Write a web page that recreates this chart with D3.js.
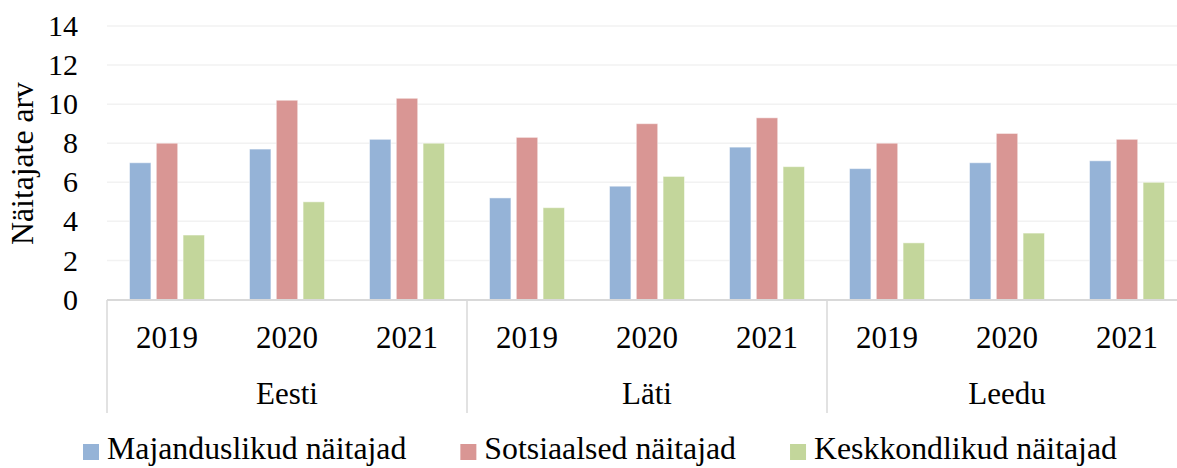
<!DOCTYPE html>
<meta charset="utf-8">
<script src="https://d3js.org/d3.v7.min.js"></script>
<style>
  body { margin: 0; background: #fff; }
</style>
<svg id="chart" width="1177" height="468"></svg>
<script>
// data
var groups = ["Eesti", "Läti", "Leedu"];
var years = ["2019", "2020", "2021"];
var seriesNames = ["Majanduslikud näitajad", "Sotsiaalsed näitajad", "Keskkondlikud näitajad"];
var majandus = [7.0, 7.7, 8.2, 5.2, 5.8, 7.8, 6.7, 7.0, 7.1];
var sotsiaal = [8.0, 10.2, 10.3, 8.3, 9.0, 9.3, 8.0, 8.5, 8.2];
var keskkond = [3.3, 5.0, 8.0, 4.7, 6.3, 6.8, 2.9, 3.4, 6.0];
var yTicks = [0, 2, 4, 6, 8, 10, 12, 14];

var colors = ["#95B3D7", "#D99694", "#C3D69B"];
var series = [majandus, sotsiaal, keskkond];
var serif = "Liberation Serif";

var svg = d3.select("#chart");
var plotLeft = 107, plotRight = 1187, plotTop = 26, plotBottom = 299.5;

// one slot per group/year pair
var cats = [];
groups.forEach(function (g) {
  years.forEach(function (y) { cats.push(g + "|" + y); });
});

var x0 = d3.scaleBand().domain(cats).range([plotLeft, plotRight]).padding(0);
var half = x0.bandwidth() / 2;
var x1 = d3.scaleBand().domain(d3.range(series.length))
  .range([half - 37.5, half + 37.5]).paddingInner(0.2).paddingOuter(0);
var y = d3.scaleLinear().domain([0, 14]).range([plotBottom, plotTop]);

// gridlines
svg.append("g")
  .selectAll("line")
  .data(yTicks.slice(1))
  .enter().append("line")
  .attr("x1", plotLeft).attr("x2", 1177)
  .attr("y1", function (d) { return y(d); })
  .attr("y2", function (d) { return y(d); })
  .style("stroke", "#F2F2F2")
  .style("stroke-width", 1.5);

// y axis labels
var yAxis = svg.append("g")
  .attr("transform", "translate(" + plotLeft + ",0)")
  .call(d3.axisLeft(y).tickValues(yTicks).tickSize(0).tickPadding(29));
yAxis.select(".domain").remove();
yAxis.attr("font-family", null).attr("font-size", null);
yAxis.selectAll("text")
  .style("font-family", serif)
  .style("font-size", "30px")
  .attr("fill", "#000");

svg.append("text")
  .attr("transform", "translate(33,163.5) rotate(-90)")
  .attr("text-anchor", "middle")
  .style("font-family", serif)
  .style("font-size", "31.7px")
  .text("Näitajate arv");

// bars
series.forEach(function (vals, s) {
  svg.append("g")
    .selectAll("rect")
    .data(vals)
    .enter().append("rect")
    .attr("x", function (d, i) { return x0(cats[i]) + x1(s); })
    .attr("width", x1.bandwidth())
    .attr("y", function (d) { return y(d); })
    .attr("height", function (d) { return y(0) - y(d); })
    .style("fill", colors[s])
    .style("stroke", "#fff")
    .style("stroke-opacity", 0.5)
    .style("stroke-width", 1);
});

// category axis
svg.append("line")
  .attr("x1", plotLeft).attr("x2", 1177)
  .attr("y1", 300).attr("y2", 300)
  .style("stroke", "#D9D9D9").style("stroke-width", 2);

var groupW = x0.bandwidth() * years.length;
var seps = d3.range(groups.length).map(function (i) { return plotLeft + i * groupW; });
svg.append("g")
  .selectAll("line")
  .data(seps)
  .enter().append("line")
  .attr("x1", function (d) { return d; }).attr("x2", function (d) { return d; })
  .attr("y1", 300).attr("y2", 413)
  .style("stroke", "#D9D9D9").style("stroke-width", 1.5);

svg.append("g")
  .selectAll("text")
  .data(cats)
  .enter().append("text")
  .attr("x", function (d) { return x0(d) + half; })
  .attr("y", 348)
  .attr("text-anchor", "middle")
  .style("font-family", serif)
  .style("font-size", "31px")
  .text(function (d) { return d.split("|")[1]; });

svg.append("g")
  .selectAll("text")
  .data(groups)
  .enter().append("text")
  .attr("x", function (d, i) { return plotLeft + i * groupW + groupW / 2; })
  .attr("y", 404)
  .attr("text-anchor", "middle")
  .style("font-family", serif)
  .style("font-size", "31px")
  .text(function (d) { return d; });

// legend
var lx = 83;
seriesNames.forEach(function (name, s) {
  svg.append("rect")
    .attr("x", lx).attr("y", 444)
    .attr("width", 16).attr("height", 16)
    .style("fill", colors[s]);
  var t = svg.append("text")
    .attr("x", lx + 24).attr("y", 459)
    .style("font-family", serif)
    .style("font-size", "31.8px")
    .text(name);
  lx = lx + 24 + t.node().getComputedTextLength() + 54;
});
</script>
